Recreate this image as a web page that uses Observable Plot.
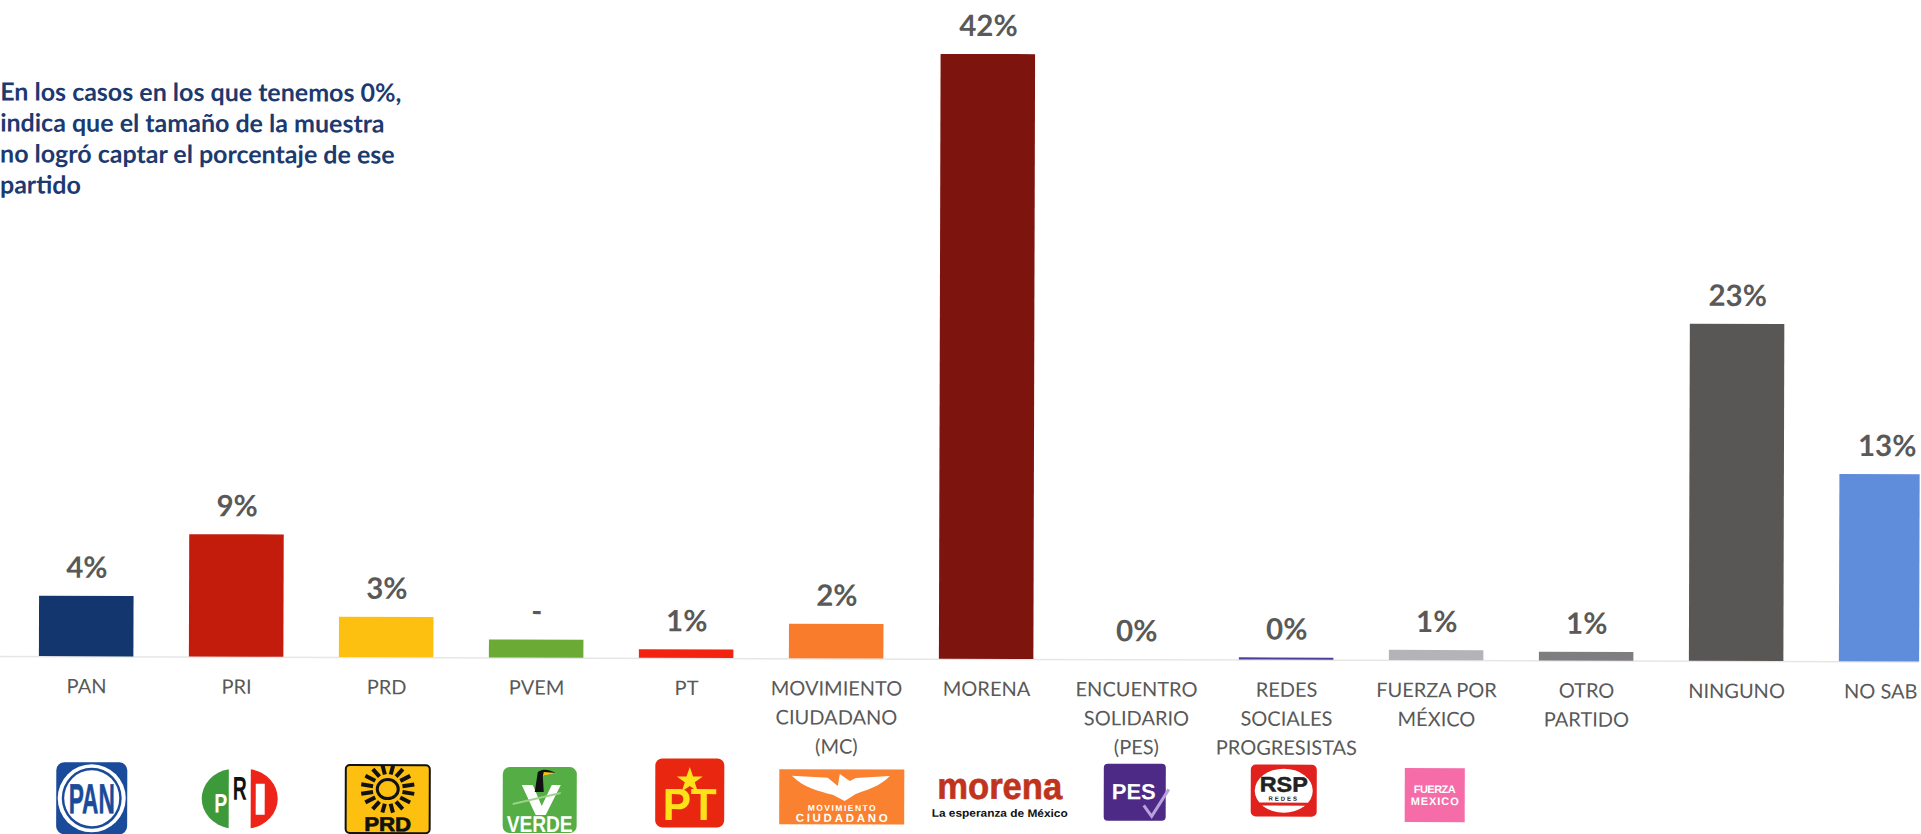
<!DOCTYPE html>
<html lang="es">
<head>
<meta charset="utf-8">
<script src="https://cdn.jsdelivr.net/npm/d3@7"></script>
<script src="https://cdn.jsdelivr.net/npm/@observablehq/plot@0.6"></script>
<style>
html,body{margin:0;padding:0;background:#fff;overflow:hidden;width:1921px;height:834px}
#chart svg{display:block;max-width:none;transform:rotate(0.163deg);transform-origin:0 0}
</style>
</head>
<body>
<div id="chart"></div>
<script>
const parties = ["PAN","PRI","PRD","PVEM","PT","MOVIMIENTO\nCIUDADANO\n(MC)","MORENA","ENCUENTRO\nSOLIDARIO\n(PES)","REDES\nSOCIALES\nPROGRESISTAS","FUERZA POR\nMÉXICO","OTRO\nPARTIDO","NINGUNO","NO SABE"];
const shares = [4.2,8.5,2.8,1.25,0.6,2.4,42,0,0.15,0.7,0.6,23.4,13];
const shareLabels = ["4%","9%","3%","-","1%","2%","42%","0%","0%","1%","1%","23%","13%"];
const barColors = ["#14366f","#c31c0c","#fdc010","#6bab35","#f3240f","#f97b2c","#7d140e","#5b2d8c","#4b409c","#b4b3b8","#7f7d80","#595656","#5f8cdb"];
const noteLines = ["En los casos en los que tenemos 0%,","indica que el tamaño de la muestra","no logró captar el porcentaje de ese","partido"];

const sunRays = d3.range(16).map(i => {
  const a = i * Math.PI / 8 + Math.PI / 16;
  return `<line x1="${(15*Math.cos(a)).toFixed(1)}" y1="${(-10+15*Math.sin(a)).toFixed(1)}" x2="${(27*Math.cos(a)).toFixed(1)}" y2="${(-10+24*Math.sin(a)).toFixed(1)}" stroke="#111" stroke-width="4"/>`;
}).join("");
const logoFont = `font-family="Liberation Sans" font-weight="700" text-anchor="middle"`;

const logos = [
  {party:"PAN", dx:6, y:798, svg:`<rect x="-35.5" y="-36" width="71" height="72" rx="8" fill="#1a4a9a"/><ellipse rx="34" ry="34" fill="#fff"/><ellipse rx="30" ry="30.5" fill="#1a4a9a"/><ellipse rx="27.5" ry="28" fill="#fff"/><text ${logoFont} y="15" font-size="42" fill="#1a4a9a" stroke="#1a4a9a" stroke-width=".6" textLength="46" lengthAdjust="spacingAndGlyphs">PAN</text>`},
  {party:"PRI", dx:4, y:798, svg:`<path d="M-11,-29.5 A33,30 0 0 0 -11,29.5Z" fill="#3d9a3a"/><path d="M11,-29.5 A33,30 0 0 1 11,29.5Z" fill="#ee2418"/><text ${logoFont} x="-19" y="14" font-size="27" fill="#fff" textLength="13" lengthAdjust="spacingAndGlyphs">P</text><text ${logoFont} y="1" font-size="33" fill="#111" textLength="14" lengthAdjust="spacingAndGlyphs">R</text><rect x="16" y="-15" width="9" height="31" fill="#fff"/>`},
  {party:"PRD", dx:2, y:798, svg:`<rect x="-42" y="-34" width="84" height="68" rx="4" fill="#fdc010" stroke="#111" stroke-width="2"/>${sunRays}<ellipse cy="-10" rx="10.5" ry="9.5" fill="none" stroke="#111" stroke-width="3"/><text ${logoFont} y="32" font-size="20" fill="#111" stroke="#111" stroke-width=".7" textLength="47" lengthAdjust="spacingAndGlyphs">PRD</text>`},
  {party:"PVEM", dx:4, y:798.5, svg:`<rect x="-37" y="-33" width="74" height="66" rx="7" fill="#55ae45"/><path d="M-18,-15 L-7,-15 L2,6 L12,-15 L21,-15 L6,15 L-4,15Z" fill="#fff"/><path d="M-27,3 L21,-8 L21,-6 L-27,5Z" fill="#9ed28a"/><path d="M-2,-28 C4,-32 10,-30 16,-27 L3,-24 L4,-8 L-5,-8Z" fill="#111"/><path d="M4,-28 L17,-27 L3,-24Z" fill="#f2c417"/><text ${logoFont} y="32" font-size="23" fill="#fff" textLength="66" lengthAdjust="spacingAndGlyphs">VERDE</text>`},
  {party:"PT", dx:4, y:791, svg:`<rect x="-34.5" y="-34.5" width="69" height="69" rx="7" fill="#e9260f"/><path d="M0,-26 L3.3,-16.5 L13,-16.5 L5,-10.7 L8,-1.5 L0,-7 L-8,-1.5 L-5,-10.7 L-13,-16.5 L-3.3,-16.5Z" fill="#fde21a"/><text ${logoFont} y="27" font-size="45" fill="#fde21a" textLength="54" lengthAdjust="spacingAndGlyphs">PT</text>`},
  {party:"MOVIMIENTO\nCIUDADANO\n(MC)", dx:6, y:794.5, svg:`<rect x="-62.5" y="-27.5" width="125" height="55" fill="#f9812f"/><path d="M-50,-21 L-14,-19 L-4,-11 L-2,-23 L8,-16 L14,-19 L48,-21 C38,-10 24,-7 14,-3 L3,4 L-9,-2 C-24,-6 -38,-9 -50,-21Z" fill="#fff"/><text ${logoFont} y="14" font-size="8.5" fill="#fff" textLength="68" lengthAdjust="spacing">MOVIMIENTO</text><text ${logoFont} y="25" font-size="11.5" fill="#fff" textLength="92" lengthAdjust="spacing">CIUDADANO</text>`},
  {party:"MORENA", dx:14, y:791, svg:`<text ${logoFont} y="5" font-size="37" fill="#c0331c" stroke="#c0331c" stroke-width=".6" textLength="125" lengthAdjust="spacingAndGlyphs">morena</text><text ${logoFont} y="23" font-size="11" fill="#111" textLength="136" lengthAdjust="spacingAndGlyphs">La esperanza de México</text>`},
  {party:"ENCUENTRO\nSOLIDARIO\n(PES)", dx:0, y:789, svg:`<rect x="-32" y="-28.5" width="62" height="57" rx="4" fill="#4e2a87"/><text ${logoFont} x="-2" y="7" font-size="22" fill="#fff" textLength="44" lengthAdjust="spacingAndGlyphs">PES</text><path d="M8,13 L16,24 L33,-3" fill="none" stroke="#b8a2dc" stroke-width="3"/>`},
  {party:"REDES\nSOCIALES\nPROGRESISTAS", dx:-2, y:787, svg:`<rect x="-33" y="-26" width="66" height="52" rx="5" fill="#e1211e"/><ellipse rx="29" ry="22" fill="#fff"/><text ${logoFont} y="1" font-size="21" fill="#222" stroke="#222" stroke-width=".5" textLength="48" lengthAdjust="spacingAndGlyphs">RSP</text><text ${logoFont} y="10" font-size="6" fill="#222" letter-spacing="2">REDES</text><rect x="-25" y="12" width="50" height="3" fill="#e1211e"/>`},
  {party:"FUERZA POR\nMÉXICO", dx:-1, y:791, svg:`<rect x="-30" y="-27" width="60" height="54" fill="#f56ca8"/><text ${logoFont} y="-2" font-size="11" fill="#fff" textLength="42" lengthAdjust="spacing">FUERZA</text><text ${logoFont} y="10" font-size="11" fill="#fff" textLength="48" lengthAdjust="spacing">MEXICO</text>`}
];

const logoMark = (index, {x}, values, dims, context) => {
  const ns = "http://www.w3.org/2000/svg";
  const layer = context.document.createElementNS(ns, "g");
  const half = x.bandwidth() / 2;
  for (const logo of logos) {
    const g = context.document.createElementNS(ns, "g");
    g.setAttribute("transform", `translate(${x(logo.party) + half + logo.dx},${logo.y})`);
    g.innerHTML = logo.svg;
    layer.appendChild(g);
  }
  return layer;
};

const table = parties.map((party, i) => ({party, share: shares[i], label: shareLabels[i], color: barColors[i]}));
const font = "Lato, Carlito, sans-serif";

const plot = Plot.plot({
  width: 1921,
  height: 834,
  marginTop: 0, marginRight: 0, marginBottom: 0, marginLeft: 0,
  style: {fontFamily: font, background: "#fff"},
  x: {type: "band", domain: parties, range: [13, 1963], paddingInner: 0.37, paddingOuter: 0.185, round: false, axis: null},
  y: {domain: [0, 42], range: [656, 51.2], axis: null},
  marks: [
    Plot.ruleY([0], {stroke: "#e6e6e6", strokeWidth: 1.5}),
    Plot.barY(table.filter(d => d.share > 0), {x: "party", y: "share", fill: "color"}),
    Plot.text(table, {x: "party", y: "share", text: "label", dy: -28, lineAnchor: "middle", fontSize: 29.5, fontWeight: 700, fill: "#595959"}),
    Plot.axisX({label: null, tickSize: 0, tickPadding: 0, y: 0, lineAnchor: "top", dy: 16, fontSize: 20, lineHeight: 1.45, fill: "#595959", stroke: "#595959", strokeWidth: 0.25}),
    logoMark,
    Plot.text([noteLines.join("\n")], {frameAnchor: "top-left", dx: 0, dy: 78, lineAnchor: "top", textAnchor: "start", lineHeight: 1.24, fontSize: 25, fontWeight: 700, fill: "#1c3a70"})
  ]
});
document.getElementById("chart").appendChild(plot);
</script>
</body>
</html>
